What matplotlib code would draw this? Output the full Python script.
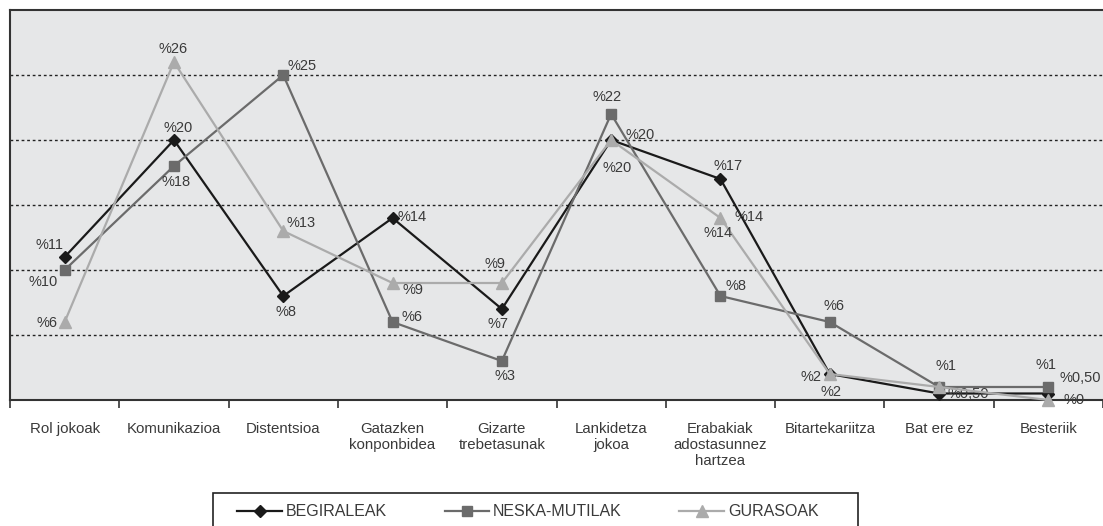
import numpy as np
import matplotlib.pyplot as plt
from matplotlib.patches import Rectangle

plt.rcParams['font.family'] = ['Liberation Sans', 'DejaVu Sans']

categories = ["Rol jokoak", "Komunikazioa", "Distentsioa", "Gatazken\nkonponbidea",
              "Gizarte\ntrebetasunak", "Lankidetza\njokoa", "Erabakiak\nadostasunnez\nhartzea",
              "Bitartekariitza", "Bat ere ez", "Besteriik"]

begiraleak = [11, 20, 8, 14, 7, 20, 17, 2, 0.5, 0.5]
neska_mutilak = [10, 18, 25, 6, 3, 22, 8, 6, 1, 1]
gurasoak = [6, 26, 13, 9, 9, 20, 14, 2, 1, 0]

begiraleak_labels = ["%11", "%20", "%8", "%14", "%7", "%20", "%17", "%2", "%0,50", "%0,50"]
neska_labels = ["%10", "%18", "%25", "%6", "%3", "%22", "%8", "%6", "%1", "%1"]
gurasoak_labels = ["%6", "%26", "%13", "%9", "%9", "%20", "%14", "%2", "", "%0"]

# label offsets in pixels (dx, dy), dy positive = up
begiraleak_off = [(-15, 12), (4, 12), (3, -16), (20, 1), (-4, -15), (29, 5), (8, 13), (-19, -3), (29, -1), (32, 16)]
neska_off = [(-22, -12), (2, -16), (19, 9), (19, 5), (3, -15), (-4, 17), (16, 10), (4, 16), (7, 21), (-2, 22)]
gurasoak_off = [(-18, -1), (-1, 13), (18, 8), (20, -7), (-7, 19), (6, -28), (-2, -15), (1, -18), (0, 0), (26, 0)]

fig = plt.figure(figsize=(11.03, 5.26), dpi=100)
ax = fig.add_axes([10 / 1103, 126 / 526, 1093 / 1103, 390 / 526])
ax.set_facecolor('#e6e7e8')

x = np.arange(len(categories))
series = [
    ("BEGIRALEAK", begiraleak, begiraleak_labels, begiraleak_off, '#1a1a1a', 'D', 6),
    ("NESKA-MUTILAK", neska_mutilak, neska_labels, neska_off, '#6b6b6b', 's', 7),
    ("GURASOAK", gurasoak, gurasoak_labels, gurasoak_off, '#ababab', '^', 8),
]

for name, vals, labs, offs, col, mk, ms in series:
    ax.plot(x, vals, color=col, marker=mk, markersize=ms, linewidth=1.6,
            label=name, clip_on=False, zorder=3)
    for xi, v, lab, (dx, dy) in zip(x, vals, labs, offs):
        if lab:
            ax.annotate(lab, (xi, v), xytext=(dx, dy), textcoords='offset pixels',
                        ha='center', va='center', fontsize=10.5, color='#3a3a3a')

# extra duplicate label printed next to the Erabakiak point
ax.annotate(gurasoak_labels[6], (x[6], gurasoak[6]), xytext=(29, 1), textcoords='offset pixels',
            ha='center', va='center', fontsize=10.5, color='#3a3a3a')

ax.set_xlim(-0.5, len(categories) - 0.5)
ax.set_ylim(0, 30)
for gy in [5, 10, 15, 20, 25]:
    ax.axhline(gy, color='#222222', linestyle=(0, (2, 2)), linewidth=1, zorder=1)

ax.set_yticks([])
ax.set_xticks(x)
ax.set_xticklabels(categories, fontsize=10.8, color='#3a3a3a', linespacing=1.15)
ax.tick_params(axis='x', which='major', length=0, pad=16)
ax.set_xticks(np.arange(-0.5, len(categories), 1), minor=True)
ax.tick_params(axis='x', which='minor', length=6, width=1.2, color='#333333', direction='out')

for side in ['left', 'top', 'bottom']:
    ax.spines[side].set_color('#333333')
    ax.spines[side].set_linewidth(1.5)
ax.spines['right'].set_visible(False)

leg = fig.legend(loc='center', bbox_to_anchor=(528 / 1103, 1 - 512 / 526), ncol=3,
                 frameon=False, fontsize=11.5, handlelength=2.8, handletextpad=0.25,
                 columnspacing=3.6)
for t in leg.get_texts():
    t.set_color('#3a3a3a')

# legend box, its lower edge runs past the bottom of the picture
fig.patches.append(Rectangle((213 / 1103, -0.05), 645 / 1103, 0.05 + 33 / 526,
                             transform=fig.transFigure, fill=False,
                             edgecolor='#222222', linewidth=1.2))

fig.savefig('out.png', dpi=100)
